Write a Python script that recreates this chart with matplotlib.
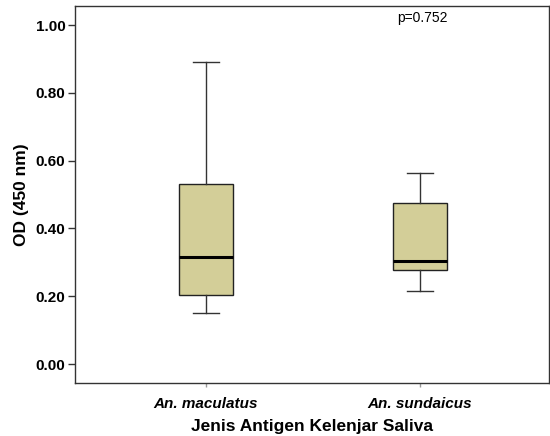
import matplotlib
matplotlib.use("Agg")
import matplotlib.pyplot as plt

plt.rcParams['font.family'] = ['Liberation Sans', 'DejaVu Sans']

categories = ["An. maculatus", "An. sundaicus"]
whisker_low = [0.150, 0.215]
q1 = [0.204, 0.277]
median = [0.316, 0.303]
q3 = [0.530, 0.474]
whisker_high = [0.892, 0.563]
y_ticks = [0.00, 0.20, 0.40, 0.60, 0.80, 1.00]
p_text = "p=0.752"

stats = []
for i, c in enumerate(categories):
    stats.append(dict(label=c, whislo=whisker_low[i], q1=q1[i], med=median[i],
                      q3=q3[i], whishi=whisker_high[i], fliers=[]))

fig = plt.figure(figsize=(5.5, 4.36), dpi=100)
ax = fig.add_axes([0.1364, 0.1216, 0.998 - 0.1364, 0.986 - 0.1216])

ax.bxp(stats, positions=[1, 2], widths=0.25, patch_artist=True,
       boxprops=dict(facecolor='#D3CE98', edgecolor='#222222', linewidth=1.0),
       medianprops=dict(color='black', linewidth=2.2),
       whiskerprops=dict(color='#333333', linewidth=1.0),
       capprops=dict(color='#333333', linewidth=1.0),
       capwidths=0.125, showfliers=False)

ax.set_xlim(0.388, 2.603)
ax.set_ylim(-0.056, 1.056)
ax.set_yticks(y_ticks)
ax.set_yticklabels([f"{v:.2f}" for v in y_ticks], fontsize=11, fontweight='bold')
ax.set_xticks([1, 2])
ax.set_xticklabels(categories, fontsize=11, fontweight='bold', fontstyle='italic')
ax.tick_params(axis='y', direction='out', length=5, width=1, color='#333333', pad=2)
ax.tick_params(axis='x', direction='out', length=3, width=1, color='#999999', pad=7)

for s in ax.spines.values():
    s.set_color('#333333')
    s.set_linewidth(1.0)

ax.set_ylabel("OD (450 nm)", fontsize=12.5, fontweight='bold', labelpad=5)
ax.set_xlabel("Jenis Antigen Kelenjar Saliva", fontsize=12.5, fontweight='bold', labelpad=6)

fig.text(422 / 550, 1 - 18 / 436, p_text, fontsize=10, ha='center', va='center')

fig.savefig("out.png", dpi=100)
